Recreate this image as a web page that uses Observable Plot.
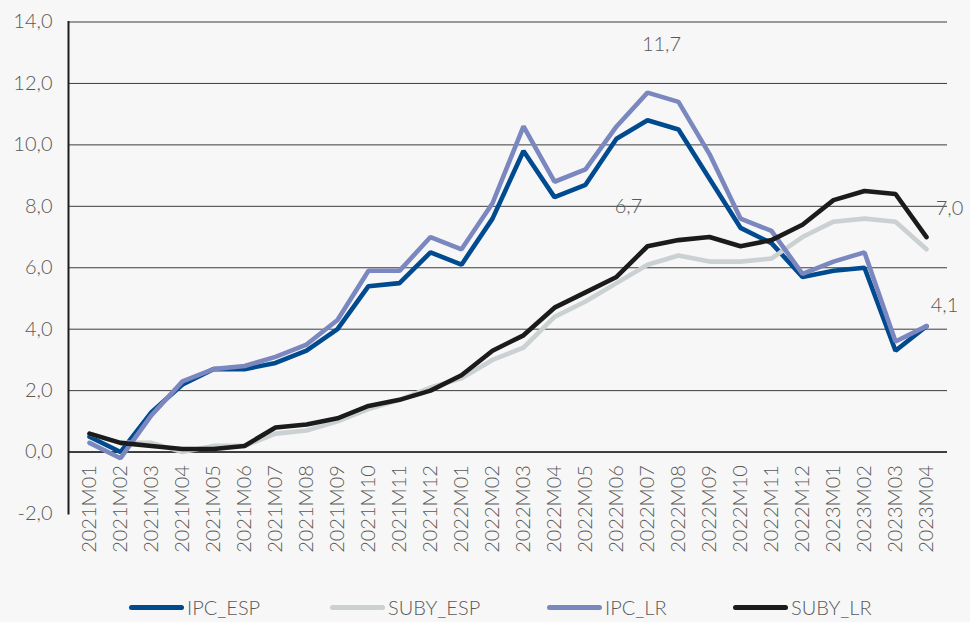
<!DOCTYPE html>
<html>
<head>
<meta charset="utf-8">
<script src="https://cdn.jsdelivr.net/npm/d3@7"></script>
<script src="https://cdn.jsdelivr.net/npm/@observablehq/plot@0.6"></script>
<style>
  html, body { margin: 0; padding: 0; background: #f7f7f7; }
  #chart { position: relative; width: 970px; height: 622px; font-family: Lato, "Noto Sans", sans-serif; font-weight: 300; }
  #chart svg { position: absolute; left: 0; top: 0; background: transparent; }
  .legend { position: absolute; left: 0; top: 595px; width: 970px; height: 24px; }
  .item { position: absolute; top: 0; height: 24px; display: flex; align-items: center; font-size: 20px; color: #595959; white-space: nowrap; }
  .sw { display: inline-block; width: 55px; height: 5px; border-radius: 3px; margin-right: 3px; }
</style>
</head>
<body>
<div id="chart"></div>
<script>
const months = [
  "2021M01","2021M02","2021M03","2021M04","2021M05","2021M06","2021M07","2021M08","2021M09","2021M10","2021M11","2021M12",
  "2022M01","2022M02","2022M03","2022M04","2022M05","2022M06","2022M07","2022M08","2022M09","2022M10","2022M11","2022M12",
  "2023M01","2023M02","2023M03","2023M04"
];
const ipcEsp  = [0.5, 0.0, 1.3, 2.2, 2.7, 2.7, 2.9, 3.3, 4.0, 5.4, 5.5, 6.5, 6.1, 7.6, 9.8, 8.3, 8.7, 10.2, 10.8, 10.5, 8.9, 7.3, 6.8, 5.7, 5.9, 6.0, 3.3, 4.1];
const subyEsp = [0.6, 0.3, 0.3, 0.0, 0.2, 0.2, 0.6, 0.7, 1.0, 1.4, 1.7, 2.1, 2.4, 3.0, 3.4, 4.4, 4.9, 5.5, 6.1, 6.4, 6.2, 6.2, 6.3, 7.0, 7.5, 7.6, 7.5, 6.6];
const ipcLr   = [0.3, -0.2, 1.2, 2.3, 2.7, 2.8, 3.1, 3.5, 4.3, 5.9, 5.9, 7.0, 6.6, 8.1, 10.6, 8.8, 9.2, 10.6, 11.7, 11.4, 9.7, 7.6, 7.2, 5.8, 6.2, 6.5, 3.6, 4.1];
const subyLr  = [0.6, 0.3, 0.2, 0.1, 0.1, 0.2, 0.8, 0.9, 1.1, 1.5, 1.7, 2.0, 2.5, 3.3, 3.8, 4.7, 5.2, 5.7, 6.7, 6.9, 7.0, 6.7, 6.9, 7.4, 8.2, 8.5, 8.4, 7.0];

const seriesNames = ["IPC_ESP", "SUBY_ESP", "IPC_LR", "SUBY_LR"];
const seriesValues = [ipcEsp, subyEsp, ipcLr, subyLr];
const seriesColors = ["#004a8f", "#cbd0d2", "#7b87bf", "#1b1b1b"];

const yTicks = [-2, 0, 2, 4, 6, 8, 10, 12, 14];
const gridTicks = [0, 2, 4, 6, 8, 10, 12, 14];

// value labels: month and value
const labelPeak = { month: "2022M07", value: 11.7 };
const labelCore = { month: "2022M07", value: 6.7 };
const labelEndCore = { month: "2023M04", value: 7.0 };
const labelEndIpc = { month: "2023M04", value: 4.1 };

const fmt = v => v.toFixed(1).replace(".", ",");

const rows = seriesNames.flatMap((s, i) => months.map((m, j) => ({ month: m, value: seriesValues[i][j], series: s })));

const textStyle = { fill: "#595959", fontSize: 20, fontWeight: 300 };

const plot = Plot.plot({
  width: 970,
  height: 575,
  marginTop: 21.5,
  marginBottom: 62,
  marginLeft: 68,
  marginRight: 23,
  style: { background: "transparent", fontFamily: "Lato, 'Noto Sans', sans-serif", overflow: "visible" },
  x: { type: "point", domain: months, padding: 0.5, axis: null },
  y: { domain: [-2, 14], axis: null },
  color: { domain: seriesNames, range: seriesColors },
  marks: [
    Plot.gridY(gridTicks, { stroke: "#3c3c3c", strokeOpacity: 1, strokeWidth: 1 }),
    Plot.ruleY([0], { stroke: "#222", strokeWidth: 1.6 }),
    Plot.frame({ anchor: "left", stroke: "#1e1e1e", strokeWidth: 2 }),
    Plot.axisY(yTicks, { label: null, tickSize: 0, tickPadding: 16, tickFormat: fmt, ...textStyle }),
    Plot.text(months, { x: d => d, y: () => 0, rotate: -90, textAnchor: "end", dy: 13, ...textStyle }),
    Plot.line(rows, { x: "month", y: "value", z: "series", stroke: "series", strokeWidth: 4.6, strokeLinejoin: "miter", strokeLinecap: "round" }),
    Plot.text([labelPeak], { x: "month", y: "value", text: d => fmt(d.value), dx: 14, dy: -48, ...textStyle }),
    Plot.text([labelCore], { x: "month", y: "value", text: d => fmt(d.value), dx: -19, dy: -40, ...textStyle }),
    Plot.text([labelEndCore], { x: "month", y: "value", text: d => fmt(d.value), dx: 23, dy: -28, ...textStyle }),
    Plot.text([labelEndIpc], { x: "month", y: "value", text: d => fmt(d.value), dx: 18, dy: -21, ...textStyle })
  ]
});

const chart = document.getElementById("chart");
chart.appendChild(plot);

const legendLefts = [129, 330, 547, 733];
const legend = document.createElement("div");
legend.className = "legend";
seriesNames.forEach((s, i) => {
  const item = document.createElement("div");
  item.className = "item";
  item.style.left = legendLefts[i] + "px";
  const sw = document.createElement("span");
  sw.className = "sw";
  sw.style.background = seriesColors[i];
  const t = document.createElement("span");
  t.textContent = s;
  item.appendChild(sw);
  item.appendChild(t);
  legend.appendChild(item);
});
chart.appendChild(legend);
</script>
</body>
</html>
